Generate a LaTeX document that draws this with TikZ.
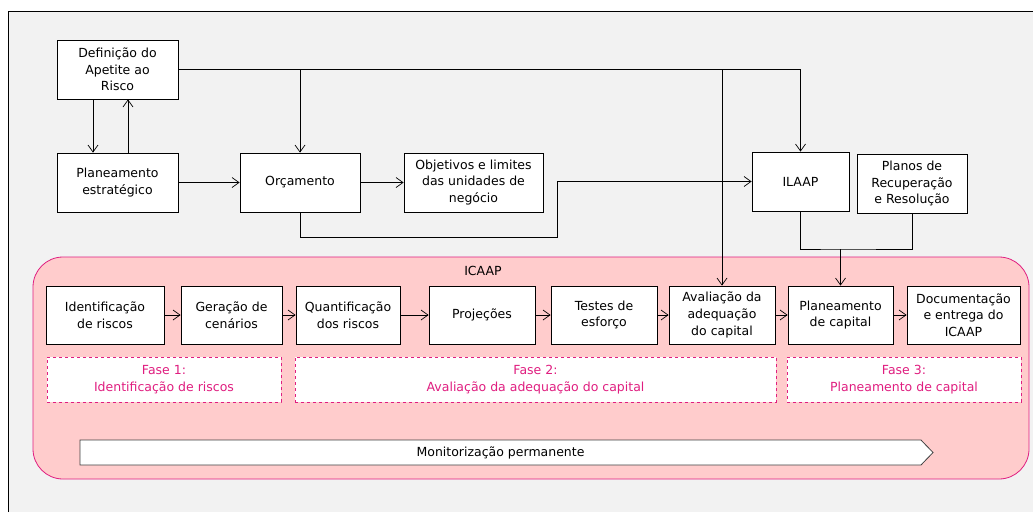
\documentclass[tikz,border=0pt]{standalone}
\usepackage{fontspec}
\setmainfont{DejaVu Sans}
\usetikzlibrary{arrows.meta,shapes.symbols}
\definecolor{fundo}{RGB}{242,242,242}
\definecolor{rosa}{RGB}{255,204,204}
\definecolor{magenta}{RGB}{224,30,128}
\begin{document}
\begin{tikzpicture}[x=1pt, y=-1pt,
    every node/.style={font=\fontsize{12.5}{16.7}\selectfont},
    caixa/.style={draw, line width=0.8pt, fill=white, align=center, inner sep=0pt, minimum height=59pt},
    fase/.style={draw=magenta, dashed, line width=0.8pt, fill=white, align=center, text=magenta, inner sep=0pt, minimum height=45pt},
    seta/.style={-{Straight Barb[length=7pt,width=10pt]}, line width=0.7pt}]
    \useasboundingbox (0,0) rectangle (1033,512);
    % fundo
    \fill[fundo] (8,11) rectangle (1033,512);
    \draw[line width=0.8pt] (8,512) -- (8,11) -- (1033,11);

    % ICAAP
    \draw[magenta, fill=rosa, line width=0.8pt, rounded corners=30pt] (33,257) rectangle (1029,479);
    \node (icaap) at (483,271) {ICAAP};

    % topo
    \node[caixa, minimum width=121pt] (def) at (117.5,69.5) {Definição do\\Apetite ao\\Risco};
    \node[caixa, minimum width=121pt] (plan) at (117.5,182.5) {Planeamento\\estratégico};
    \node[caixa, minimum width=120pt] (orc) at (300,182.5) {Orçamento};
    \node[caixa, minimum width=139pt] (obj) at (473.5,182.5) {Objetivos e limites\\das unidades de\\negócio};
    \node[caixa, minimum width=97pt] (ilaap) at (800.5,181.5) {ILAAP};
    \node[caixa, minimum width=110pt] (planos) at (912,183.5) {Planos de\\Recuperação\\e Resolução};

    % processo ICAAP
    \node[caixa, minimum width=118pt, minimum height=58pt] (ident) at (105,315) {Identificação\\de riscos};
    \node[caixa, minimum width=101pt, minimum height=58pt] (ger) at (231.5,315) {Geração de\\cenários};
    \node[caixa, minimum width=104pt, minimum height=58pt] (quant) at (348,315) {Quantificação\\dos riscos};
    \node[caixa, minimum width=106pt, minimum height=58pt] (proj) at (482,315) {Projeções};
    \node[caixa, minimum width=106pt, minimum height=58pt] (testes) at (604,315) {Testes de\\esforço};
    \node[caixa, minimum width=106pt, minimum height=58pt] (aval) at (722,315) {Avaliação da\\adequação\\do capital};
    \node[caixa, minimum width=105pt, minimum height=58pt] (plcap) at (840.5,315) {Planeamento\\de capital};
    \node[caixa, minimum width=113pt, minimum height=58pt] (doc) at (963.5,315) {Documentação\\e entrega do\\ICAAP};

    % fases
    \node[fase, minimum width=234pt] (f1) at (164,379.5) {Fase 1:\\Identificação de riscos};
    \node[fase, minimum width=481pt] (f2) at (535.5,379.5) {Fase 2:\\Avaliação da adequação do capital};
    \node[fase, minimum width=234pt] (f3) at (904,379.5) {Fase 3:\\Planeamento de capital};

    % monitorização
    \node[draw=black!75, line width=0.8pt, fill=white, shape=signal, signal to=east, signal pointer angle=92,
          minimum width=853pt, minimum height=25pt, inner sep=0pt] (monit) at (500.5,452.5) {Monitorização permanente};

    % ligações
    \draw[seta] (def.east) -| (ilaap.north);
    \draw[seta] (orc.north |- def.east) -- (orc.north);
    \draw[seta] (aval.north |- def.east) -- (aval.north);
    \draw[seta] ([xshift=-24.5pt]def.south) -- ([xshift=-24.5pt]plan.north);
    \draw[seta] ([xshift=10.5pt]plan.north) -- ([xshift=10.5pt]def.south);
    \draw[seta] (plan.east) -- (plan.east -| orc.west);
    \draw[seta] (orc.east) -- (obj.west);
    \coordinate (desvio) at (557,237);
    \draw[seta] (orc.south) |- (desvio) |- (ilaap.west);
    \coordinate (juncao) at (840.5,249);
    \draw[line width=0.7pt] (ilaap.south) |- (juncao) -| (planos.south);
    \draw[seta] (juncao) -- (plcap.north);
    \foreach \a/\b in {ident/ger, ger/quant, quant/proj, proj/testes, testes/aval, aval/plcap, plcap/doc}
        \draw[seta] (\a.east) -- (\b.west);
\end{tikzpicture}
\end{document}
